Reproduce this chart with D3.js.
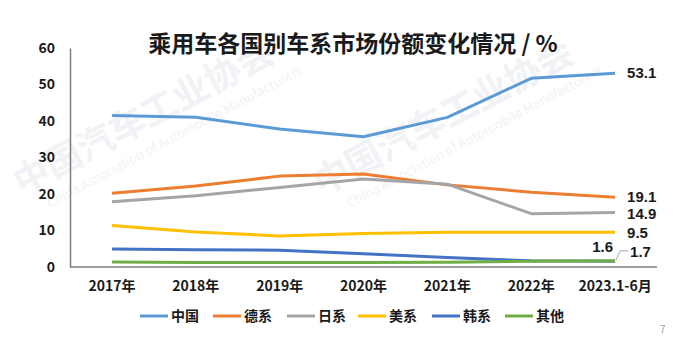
<!DOCTYPE html>
<html>
<head>
<meta charset="utf-8">
<script src="https://cdn.jsdelivr.net/npm/d3@7"></script>
<style>
  html, body { margin: 0; padding: 0; background: #fff; }
  svg { display: block; }
  text { font-family: "Noto Sans CJK SC", "Noto Sans", sans-serif; font-weight: 700; fill: #1a1a1a; }
</style>
</head>
<body>
<svg id="chart" width="693" height="337"></svg>
<script>
const categories = ["2017年", "2018年", "2019年", "2020年", "2021年", "2022年", "2023.1-6月"];
const seriesNames = ["中国", "德系", "日系", "美系", "韩系", "其他"];
const china  = [41.5, 41.0, 37.8, 35.7, 41.0, 51.7, 53.1];
const german = [20.2, 22.2, 24.9, 25.5, 22.5, 20.5, 19.1];
const japan  = [17.9, 19.5, 21.8, 24.1, 22.7, 14.6, 14.9];
const usa    = [11.4, 9.6, 8.5, 9.2, 9.5, 9.5, 9.5];
const korea  = [4.9, 4.7, 4.6, 3.6, 2.6, 1.7, 1.6];
const other  = [1.4, 1.2, 1.2, 1.2, 1.3, 1.6, 1.7];
const yTicks = [0, 10, 20, 30, 40, 50, 60];
const endLabels = ["53.1", "19.1", "14.9", "9.5", "1.6", "1.7"];
const colors = ["#5B9BD5", "#ED7D31", "#A5A5A5", "#FFC000", "#4472C4", "#70AD47"];
const seriesValues = [china, german, japan, usa, korea, other];

const svg = d3.select("#chart");

// faint watermark
const wm = svg.append("g");
const wmCol = "#f1f2f5";
wm.append("text").attr("transform", "translate(22,196) rotate(-28)")
  .style("font-size", "36px").style("fill", wmCol).text("中国汽车工业协会");
wm.append("text").attr("transform", "translate(50,208) rotate(-28)")
  .style("font-size", "13px").style("font-weight", "400").style("fill", wmCol).text("China Association of Automobile Manufacturers");
wm.append("text").attr("transform", "translate(322,196) rotate(-28)")
  .style("font-size", "36px").style("fill", wmCol).text("中国汽车工业协会");
wm.append("text").attr("transform", "translate(350,208) rotate(-28)")
  .style("font-size", "13px").style("font-weight", "400").style("fill", wmCol).text("China Association of Automobile Manufacturers");

// title
svg.append("text").attr("x", 353).attr("y", 52).attr("text-anchor", "middle")
  .style("font-size", "23px").text("乘用车各国别车系市场份额变化情况 / %");

const x = d3.scaleBand().domain(categories).range([70, 657]).padding(0);
const y = d3.scaleLinear().domain([0, 60]).range([267, 48]);
const cx = d => x(d) + x.bandwidth() / 2;

// axes
const yAxis = svg.append("g").attr("transform", "translate(70,0)")
  .call(d3.axisLeft(y).tickValues(yTicks).tickSize(0).tickPadding(15));
yAxis.select(".domain").attr("stroke", "#7f7f7f").attr("stroke-width", 1.5);
yAxis.selectAll("text").style("font-size", "14px").attr("fill", "#1a1a1a")
  .style("font-family", "'Noto Sans CJK SC', sans-serif").style("font-weight", 700);

const xAxis = svg.append("g").attr("transform", "translate(0,267)")
  .call(d3.axisBottom(x).tickSize(0).tickPadding(14));
xAxis.select(".domain").attr("stroke", "#7f7f7f").attr("stroke-width", 1.5).attr("d", "M70,0H657");
xAxis.selectAll("text").style("font-size", "14px").attr("fill", "#1a1a1a")
  .style("font-family", "'Noto Sans CJK SC', sans-serif").style("font-weight", 700);

// lines
const line = d3.line().x((d, i) => cx(categories[i])).y(d => y(d));
seriesValues.forEach((vals, s) => {
  svg.append("path").datum(vals).attr("d", line)
    .attr("fill", "none").attr("stroke", colors[s]).attr("stroke-width", 3)
    .attr("stroke-linejoin", "round");
});

// end labels
const numFont = "'Liberation Sans', Arial, sans-serif";
const last = categories[categories.length - 1];
const lx = cx(last);
const lblPos = [
  {s: 0, dx: 12, dy: 0},
  {s: 1, dx: 12, dy: -1},
  {s: 2, dx: 12, dy: 1},
  {s: 3, dx: 12, dy: 0},
];
lblPos.forEach(p => {
  svg.append("text").attr("x", lx + p.dx).attr("y", y(seriesValues[p.s][6]) + p.dy)
    .attr("dy", "0.35em").style("font-size", "15px").style("font-family", numFont).text(endLabels[p.s]);
});
// 1.6 (韩系) above-left
svg.append("text").attr("x", lx - 2).attr("y", y(korea[6]) - 14).attr("dy", "0.35em")
  .attr("text-anchor", "end").style("font-size", "15px").style("font-family", numFont).text(endLabels[4]);
// 1.7 (其他) with leader
svg.append("text").attr("x", lx + 15).attr("y", y(other[6]) - 9).attr("dy", "0.35em")
  .style("font-size", "15px").style("font-family", numFont).text(endLabels[5]);
svg.append("path")
  .attr("d", d3.line()([[lx + 13, y(other[6]) - 10], [lx + 5, y(other[6]) - 10], [lx + 1, y(other[6]) - 1]]))
  .attr("fill", "none").attr("stroke", "#a6a6a6").attr("stroke-width", 1);

// legend
const legX = [140, 213, 287, 358, 432, 505];
const legY = 316;
seriesNames.forEach((n, i) => {
  const g = svg.append("g").attr("transform", `translate(${legX[i]},${legY})`);
  g.append("line").attr("x1", 0).attr("x2", 28).attr("y1", 0).attr("y2", 0)
    .attr("stroke", colors[i]).attr("stroke-width", 3);
  g.append("text").attr("x", 31).attr("y", 0).attr("dy", "0.35em")
    .style("font-size", "14px").text(n);
});

// page number
svg.append("text").attr("x", 660).attr("y", 333).style("font-size", "10px")
  .style("font-weight", 400).style("fill", "#a0a0a0").text("7");
</script>
</body>
</html>
